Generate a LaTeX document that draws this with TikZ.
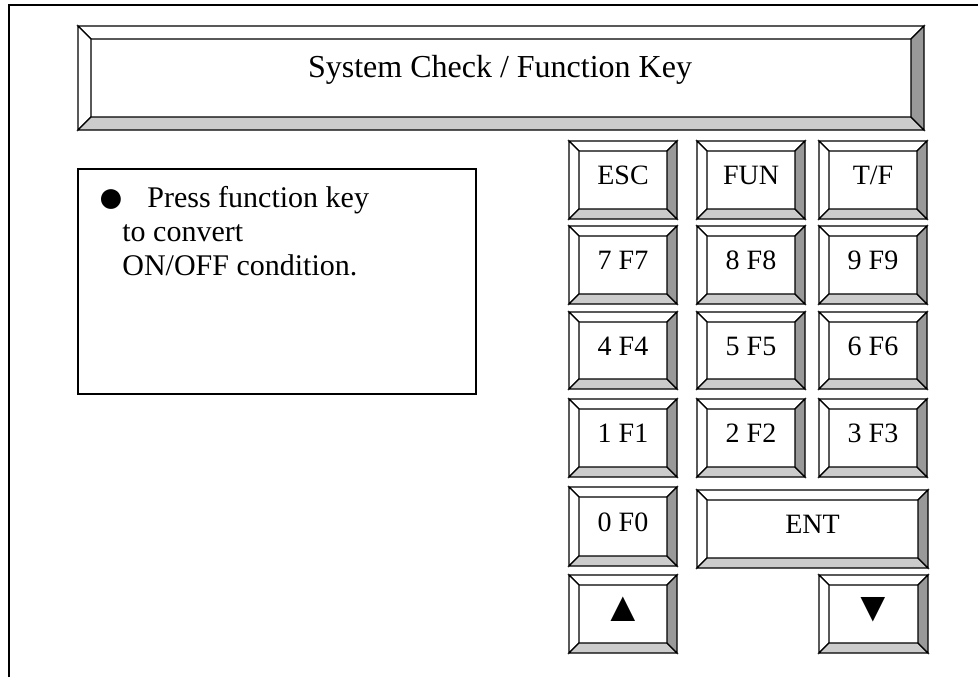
\documentclass[tikz,border=0pt]{standalone}
\usepackage{fontspec}
\setmainfont{Liberation Serif}
\usetikzlibrary{calc}

\definecolor{bevellight}{gray}{0.8}
\definecolor{beveldark}{gray}{0.6}

\tikzset{
  facet/.style={draw=black, line width=0.65pt, line join=miter},
  keylabel/.style={inner sep=0pt, yshift=2.2pt, font=\fontsize{14}{15}\selectfont},
  titlelabel/.style={inner sep=0pt, font=\fontsize{16}{20}\selectfont},
}

% bevelled key: [bevel]{name}{x1}{y1}{x2}{y2}{label}
\newcommand{\bevelkey}[7][10]{%
  \filldraw[facet, fill=white] (#3,#4) -- (#5,#4) -- ({#5-#1},{#4+#1}) -- ({#3+#1},{#4+#1}) -- cycle;
  \filldraw[facet, fill=white] (#3,#4) -- ({#3+#1},{#4+#1}) -- ({#3+#1},{#6-#1}) -- (#3,#6) -- cycle;
  \filldraw[facet, fill=bevellight] (#3,#6) -- ({#3+#1},{#6-#1}) -- ({#5-#1},{#6-#1}) -- (#5,#6) -- cycle;
  \filldraw[facet, fill=beveldark] (#5,#4) -- (#5,#6) -- ({#5-#1},{#6-#1}) -- ({#5-#1},{#4+#1}) -- cycle;
  \node[keylabel] (#2) at ({(#3+#5)/2},{(#4+#6)/2}) {#7};
}

\begin{document}
\begin{tikzpicture}[x=0.5pt, y=-0.5pt]
    \useasboundingbox (0,0) rectangle (979,677);
    \draw[line width=0.65pt] (9,677) -- (9,5) -- (978,5);

    % title bar
    \bevelkey[13]{titlebar}{78}{26}{924}{130}{}
    \node[titlelabel, anchor=base] (title) at (500,77) {System Check / Function Key};

    % note box
    \draw[line width=0.65pt] (78,169) rectangle (476,394);
    \node[anchor=north west, align=left, inner sep=0pt, font=\fontsize{15}{17}\selectfont] (note) at (122,186)
        {\llap{\makebox[12.5pt][l]{\raisebox{-2.3pt}{\fontsize{23}{17}\selectfont ●}}}\hspace*{12.5pt}Press function key\\to convert\\ON/OFF condition.};

    % keypad
    \bevelkey{esc}{569}{141}{677}{219}{ESC}
    \bevelkey{fun}{697}{141}{805}{219}{FUN}
    \bevelkey{tf}{819}{141}{927}{219}{T/F}

    \bevelkey{k7}{569}{226}{677}{304}{7 F7}
    \bevelkey{k8}{697}{226}{805}{304}{8 F8}
    \bevelkey{k9}{819}{226}{927}{304}{9 F9}

    \bevelkey{k4}{569}{312}{677}{389}{4 F4}
    \bevelkey{k5}{697}{312}{805}{389}{5 F5}
    \bevelkey{k6}{819}{312}{927}{389}{6 F6}

    \bevelkey{k1}{569}{399}{677}{477}{1 F1}
    \bevelkey{k2}{697}{399}{805}{477}{2 F2}
    \bevelkey{k3}{819}{399}{927}{477}{3 F3}

    \bevelkey{k0}{569}{487}{677}{566}{0 F0}
    \bevelkey{ent}{697}{490}{928}{568}{ENT}

    \bevelkey{up}{569}{575}{677}{653}{\fontsize{21}{21}\selectfont ▲}
    \bevelkey{down}{819}{575}{928}{653}{\fontsize{21}{21}\selectfont ▼}
\end{tikzpicture}
\end{document}
